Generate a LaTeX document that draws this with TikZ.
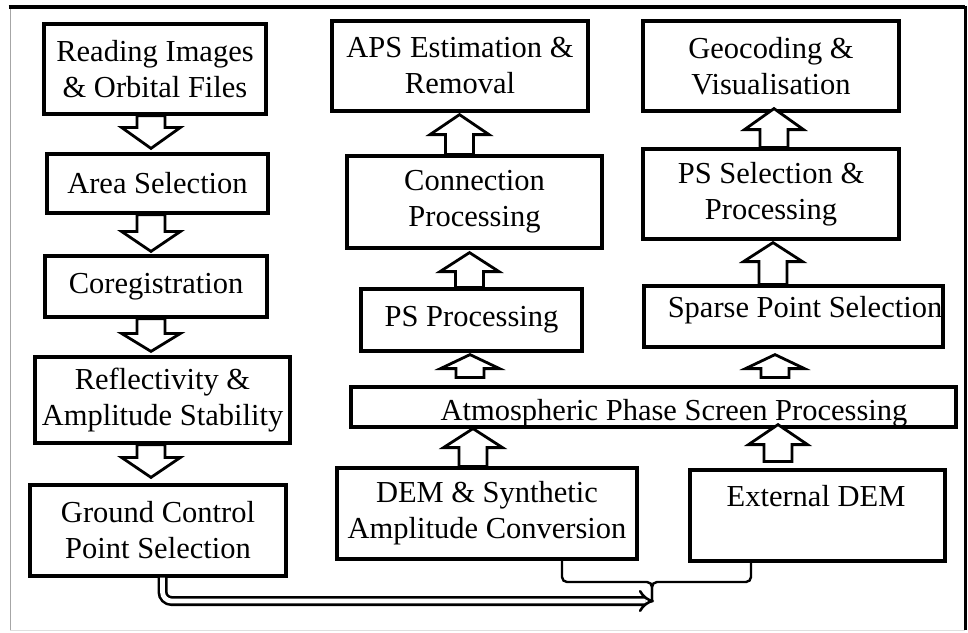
\documentclass[tikz,border=0pt]{standalone}
\usepackage{fontspec}
\setmainfont{Liberation Serif}
\usetikzlibrary{calc,arrows.meta}

% Hollow block arrow: #1 x position, #2 from, #3 to, #4 tail gap, #5 tip gap, #6 head length
\newcommand{\blockarrow}[6]{%
  \draw[blockarrow] let \p1=(#1 |- #2), \p2=(#1 |- #3), \n1={sign(\y2-\y1)} in
    ({\x1-14pt},{\y1+\n1*(#4pt)}) -- ({\x1-14pt},{\y2-\n1*(#5pt+#6pt)})
    -- ({\x1-29.5pt},{\y2-\n1*(#5pt+#6pt)}) -- (\x1,{\y2-\n1*(#5pt)})
    -- ({\x1+29.5pt},{\y2-\n1*(#5pt+#6pt)}) -- ({\x1+14pt},{\y2-\n1*(#5pt+#6pt)})
    -- ({\x1+14pt},{\y1+\n1*(#4pt)}) -- cycle;}

\tikzset{
  box/.style={draw, line width=3.2pt, rectangle, inner sep=0pt, align=center,
    font=\fontsize{30.5}{36}\selectfont},
  label/.style={font=\fontsize{30.5}{36}\selectfont, inner sep=0pt},
  blockarrow/.style={draw, line width=2.8pt, fill=white, line join=miter},
  thinline/.style={draw, line width=2.4pt, rounded corners=5pt},
  dblline/.style={line width=2.6pt, double=white, double distance=4.8pt,
    rounded corners=9pt, -{Implies[length=10pt,width=28pt]}}
}

\begin{document}
\begin{tikzpicture}[x=1pt, y=-1pt]
\useasboundingbox (0,0) rectangle (968,632);

% outer frame
\draw[gray!70, line width=1pt] (10,7) -- (10,630);
\draw[gray!25, line width=1pt] (10,630) -- (965,630);
\draw[black, line width=3.5pt] (8.5,7) -- (965,7);
\draw[black, line width=3pt] (965,5.5) -- (965,630);

% left column
\node[box, minimum width=222pt, minimum height=90pt] (reading) at (155,69) {Reading Images\\\& Orbital Files};
\node[box, minimum width=221pt, minimum height=59pt] (area) at (157.5,183.5) {Area Selection};
\node[box, minimum width=222pt, minimum height=61pt] (coreg) at (156,286.5) {Coregistration};
\node[box, minimum width=255pt, minimum height=86pt] (refl) at (162.5,400) {Reflectivity \&\\Amplitude Stability};
\node[box, minimum width=256pt, minimum height=91pt] (gcp) at (158,530.5) {Ground Control\\Point Selection};

% middle column
\node[box, minimum width=256pt, minimum height=90pt] (aps) at (460,66) {APS Estimation \&\\Removal};
\node[box, minimum width=255pt, minimum height=92pt] (conn) at (474.5,202) {Connection\\Processing};
\node[box, minimum width=221pt, minimum height=62pt] (psproc) at (471.5,320) {PS Processing};
\node[box, minimum width=605pt, minimum height=40pt] (atm) at (653.5,407) {};
\node[box, minimum width=300pt, minimum height=91pt] (dem) at (487,513.5) {DEM \& Synthetic\\Amplitude Conversion};

% right column
\node[box, minimum width=256pt, minimum height=90pt] (geo) at (771,66) {Geocoding \&\\Visualisation};
\node[box, minimum width=256pt, minimum height=90pt] (pssel) at (771,194) {PS Selection \&\\Processing};
\node[box, minimum width=299pt, minimum height=61pt] (sparse) at (793.5,316.5) {};
\node[box, minimum width=255pt, minimum height=91pt] (ext) at (817.5,515.5) {};

% block arrows
\blockarrow{151,0}{reading.south}{area.north}{0}{4}{21}
\blockarrow{151,0}{area.south}{coreg.north}{0}{3}{20}
\blockarrow{151,0}{coreg.south}{refl.north}{0}{4}{18}
\blockarrow{151,0}{refl.south}{gcp.north}{0}{6}{20}
\blockarrow{469.5,0}{psproc.north}{conn.south}{0}{3}{19}
\blockarrow{459.5,0}{conn.north}{aps.south}{0}{2}{20}
\blockarrow{470,0}{atm.north}{psproc.south}{8}{2}{14}
\blockarrow{473,0}{dem.north}{atm.south}{0}{0}{19}
\blockarrow{775,0}{atm.north}{sparse.south}{8}{6}{14}
\blockarrow{778,0}{ext.north}{atm.south}{7}{-4}{20}
\blockarrow{773,0}{sparse.north}{pssel.south}{0}{2}{19}
\blockarrow{774,0}{pssel.north}{geo.south}{0}{-4}{21}

% texts placed off-centre in their boxes
\node[label, anchor=base] (atmtext) at (674,420) {Atmospheric Phase Screen Processing};
\node[label, anchor=base] (sparsetext) at (805,317) {Sparse Point Selection};
\node[label, anchor=base] (exttext) at (816,506) {External DEM};

% bottom connectors
\coordinate (merge) at (654,601);
\coordinate (drop) at (652,600);
\coordinate (join) at (652,582);
\draw[dblline] (162.5,0 |- gcp.south) |- (merge);
\draw[thinline] (562,0 |- dem.south) |- (join) -- (drop);
\draw[thinline] (751,0 |- ext.south) |- (join) -- (drop);
\end{tikzpicture}
\end{document}
